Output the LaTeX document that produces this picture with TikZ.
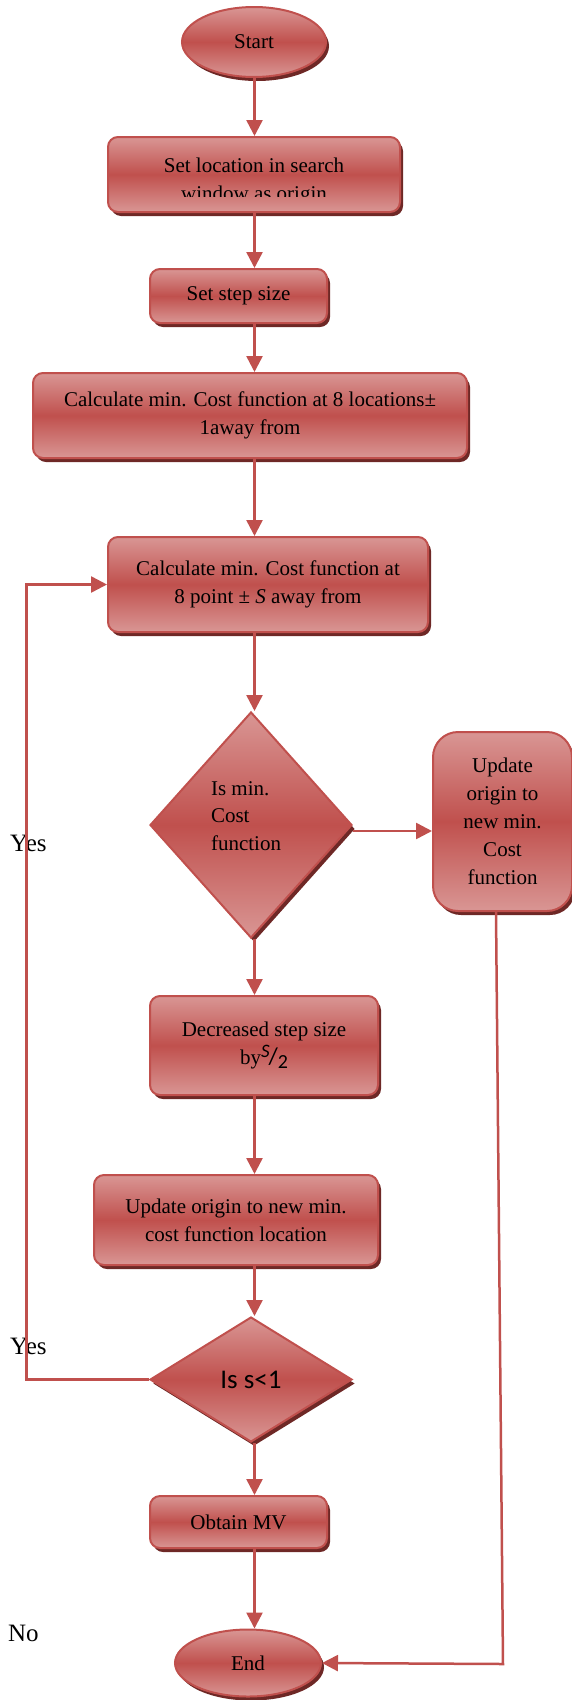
\documentclass[tikz,border=0pt]{standalone}
\usepackage{fontspec}
\setmainfont{Liberation Serif}
\newfontfamily\calfont{Carlito}
\usetikzlibrary{shapes.geometric,shadows,arrows.meta,calc}
\definecolor{bord}{HTML}{C0504D}
\definecolor{lite}{HTML}{D99694}
\definecolor{shad}{HTML}{6E2826}
\begin{document}
\begin{tikzpicture}[x=1pt,y=-1pt,
 fillshade/.style={top color=lite,bottom color=lite,middle color=bord,draw=bord,line width=2pt,
   drop shadow={shadow xshift=3pt,shadow yshift=-4pt,fill=shad,opacity=1}},
 box/.style={fillshade,rectangle,rounded corners=10pt,inner sep=0pt,align=center,font=\fontsize{21}{28}\selectfont},
 term/.style={fillshade,ellipse,inner sep=0pt,font=\fontsize{21}{28}\selectfont},
 dec/.style={fillshade,diamond,inner sep=0pt},
 arr/.style={draw=bord,line width=2.5pt,-{Triangle[length=16pt,width=16pt]}},
 lbl/.style={font=\fontsize{25}{30}\selectfont,anchor=west,inner sep=0pt},
 txt/.style={inner sep=0pt,align=center,font=\fontsize{21}{28}\selectfont}]
\useasboundingbox (0,0) rectangle (572,1700);
\coordinate (col) at (254.5,0);
\coordinate (lx) at (26.5,0);

\node[term,minimum width=144pt,minimum height=70pt] (start) at (254,42) {Start};
\node[box,minimum width=292pt,minimum height=75pt] (b1) at (254,174.5) {};
\begin{scope}
\clip (100,140) rectangle (410,196);
\node[txt] (b1t) at (254,181) {Set location in search\\window as origin};
\end{scope}
\node[box,minimum width=177pt,minimum height=54pt] (b2) at (238.5,296) {Set step size};
\node[box,minimum width=434pt,minimum height=85pt] (b3) at (250,415.5) {Calculate min. Cost function at 8 locations±\\1away from};
\node[box,minimum width=320pt,minimum height=95pt] (b4) at (268,584.5) {Calculate min. Cost function at\\8 point ± \textit{S} away from};
\node[dec,minimum width=202pt,minimum height=226pt] (d1) at (251,825) {};
\node[txt,align=left,font=\fontsize{21}{27.5}\selectfont] (d1t) at (246,816) {Is min.\\Cost\\function};
\node[box,rounded corners=25pt,minimum width=139pt,minimum height=179pt] (upd) at (502.5,821.5) {Update\\origin to\\new min.\\Cost\\function};
\node[box,minimum width=228pt,minimum height=99pt] (b5) at (264,1045.5) {Decreased step size\\by\raisebox{7pt}{\fontsize{19}{19}\calfont\itshape S}\kern-1pt{\fontsize{24}{24}\calfont /}\raisebox{-4pt}{\fontsize{20}{20}\calfont 2}};
\node[box,minimum width=284pt,minimum height=90pt] (b6) at (236,1220) {Update origin to new min.\\cost function location};
\node[dec,minimum width=202pt,minimum height=125pt,font=\fontsize{27}{30}\calfont] (d2) at (251,1379.5) {Is s<1};
\node[box,minimum width=177pt,minimum height=52pt] (b7) at (238.5,1522) {Obtain MV};
\node[term,minimum width=146pt,minimum height=67pt] (end) at (248,1663) {End};

\node[lbl] (yes1) at (10,843) {Yes};
\node[lbl] (yes2) at (10,1346) {Yes};
\node[lbl] (no) at (8,1633) {No};

\draw[arr] (start.south -| col) -- (b1.north -| col);
\draw[arr] (b1.south -| col) -- (b2.north -| col);
\draw[arr] (b2.south -| col) -- (b3.north -| col);
\draw[arr] (b3.south -| col) -- (b4.north -| col);
\draw[arr] (b4.south -| col) -- (d1.north -| col);
\draw[arr] ([yshift=-6pt]d1.east) -- ([yshift=-6pt]d1.east -| upd.west);
\draw[arr] (d1.south -| col) -- (b5.north -| col);
\draw[arr] (b5.south -| col) -- (b6.north -| col);
\draw[arr] (b6.south -| col) -- (d2.north -| col);
\draw[arr] (d2.south -| col) -- (b7.north -| col);
\draw[arr] (b7.south -| col) -- (end.north -| col);
\draw[arr] (d2.west) -- (d2.west -| lx) -- (lx |- b4.west) -- (b4.west);
\coordinate (corner) at (503,1664);
\draw[arr] ([xshift=-6.5pt]upd.south) -- (corner) -- (end.east);
\end{tikzpicture}
\end{document}
